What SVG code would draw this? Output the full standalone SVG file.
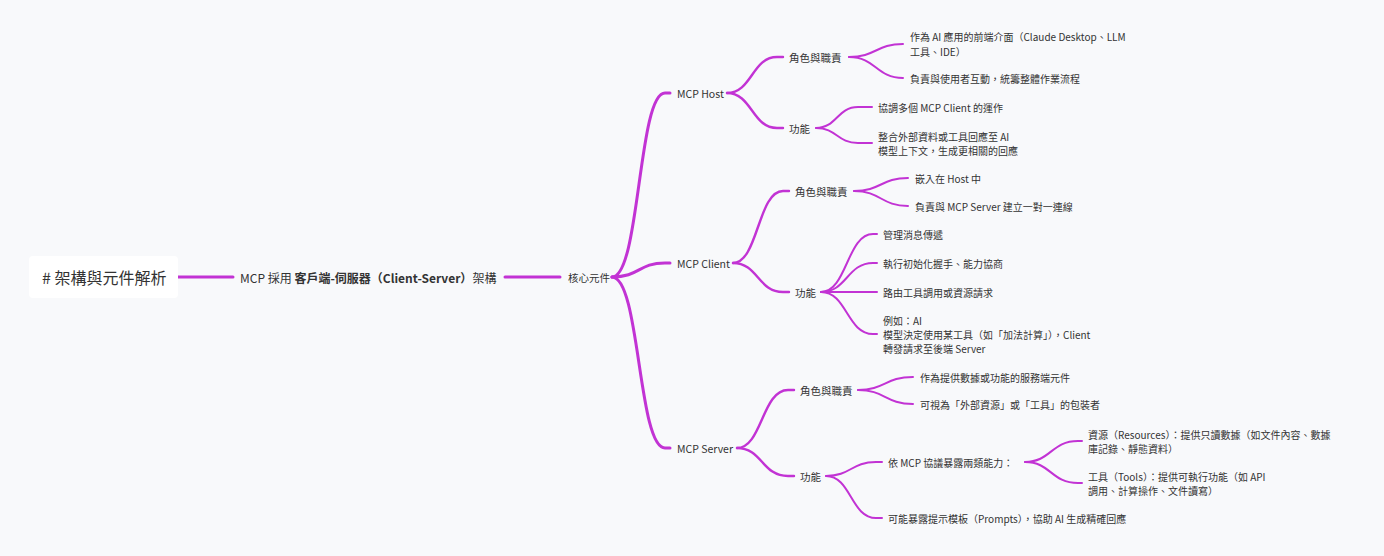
<svg xmlns="http://www.w3.org/2000/svg" width="1384" height="556" viewBox="0 0 1384 556">
<style>
text{font-family:"Noto Sans CJK TC","Noto Sans",sans-serif;fill:#333;dominant-baseline:central}
.s{font-size:10px}
.m{font-size:10.5px}
.l{font-size:12px}
#edges path{fill:none;stroke:#c233d4;stroke-linecap:round}
.w3{stroke-width:3}
.w2{stroke-width:2.4}
.w1{stroke-width:2}
</style>
<rect width="1384" height="556" fill="#f8f9fb"/>
<g id="edges">
<path class="w3" d="M178 277 H233"/>
<path class="w3" d="M505 277 H560"/>
<path class="w3" d="M612 277 C640 277 638 93 665 93 H670"/>
<path class="w3" d="M612 277 C640 277 638 263 665 263 H670"/>
<path class="w3" d="M612 277 C640 277 638 448 665 448 H670"/>
<path class="w2" d="M727 93 C752 93 752 57 777 57 H783"/>
<path class="w2" d="M727 93 C752 93 752 128 777 128 H783"/>
<path class="w2" d="M733 263 C758 263 758 191 783 191 H789"/>
<path class="w2" d="M733 263 C758 263 758 292 783 292 H789"/>
<path class="w2" d="M737 448 C762 448 762 390 788 390 H794"/>
<path class="w2" d="M737 448 C762 448 762 476 788 476 H794"/>
<path class="w1" d="M849 57 C876 57 876 44 903 44"/>
<path class="w1" d="M849 57 C876 57 876 78 903 78"/>
<path class="w1" d="M816 128 C837 128 837 107 858 107 H872"/>
<path class="w1" d="M816 128 C837 128 837 143 858 143 H872"/>
<path class="w1" d="M854 191 C881 191 881 178 908 178"/>
<path class="w1" d="M854 191 C881 191 881 206 908 206"/>
<path class="w1" d="M821 292 C847 292 847 234 873 234 H877"/>
<path class="w1" d="M821 292 C847 292 847 263 873 263 H877"/>
<path class="w1" d="M821 292 H877"/>
<path class="w1" d="M821 292 C847 292 847 334 873 334 H877"/>
<path class="w1" d="M858 390 C885 390 885 377 913 377"/>
<path class="w1" d="M858 390 C885 390 885 404 913 404"/>
<path class="w1" d="M826 476 C851 476 851 462 876 462 H882"/>
<path class="w1" d="M826 476 C851 476 851 518 876 518 H882"/>
<path class="w1" d="M1025 462 C1051 462 1051 441 1078 441 H1082"/>
<path class="w1" d="M1025 462 C1051 462 1051 483 1078 483 H1082"/>
</g>
<g id="root"><rect x="29" y="256" width="149" height="42" rx="4" fill="#fff"/><text x="42" y="277" style="font-size:16px">#&#160;架構與元件解析</text></g>
<g id="n1"><text x="240" y="277" class="l">MCP 採用 <tspan font-weight="bold">客戶端-伺服器（Client-Server）</tspan>架構</text></g>
<g id="n2"><text x="568" y="277" class="m">核心元件</text></g>
<g id="host"><text x="677" y="93" class="m">MCP Host</text></g>
<g id="h_role"><text x="789" y="57" class="m">角色與職責</text></g>
<g id="h_r1"><text x="910" y="36" class="s">作為 AI 應用的前端介面（Claude Desktop、LLM</text><text x="910" y="51" class="s">工具、IDE）</text></g>
<g id="h_r2"><text x="910" y="78" class="s">負責與使用者互動，統籌整體作業流程</text></g>
<g id="h_fn"><text x="789" y="128" class="m">功能</text></g>
<g id="h_f1"><text x="878" y="107" class="s">協調多個 MCP Client 的運作</text></g>
<g id="h_f2"><text x="878" y="136" class="s">整合外部資料或工具回應至 AI</text><text x="878" y="150" class="s">模型上下文，生成更相關的回應</text></g>
<g id="client"><text x="677" y="263" class="m">MCP Client</text></g>
<g id="c_role"><text x="795" y="191" class="m">角色與職責</text></g>
<g id="c_r1"><text x="915" y="178" class="s">嵌入在 Host 中</text></g>
<g id="c_r2"><text x="915" y="206" class="s">負責與 MCP Server 建立一對一連線</text></g>
<g id="c_fn"><text x="795" y="292" class="m">功能</text></g>
<g id="c_f1"><text x="883" y="234" class="s">管理消息傳遞</text></g>
<g id="c_f2"><text x="883" y="263" class="s">執行初始化握手、能力協商</text></g>
<g id="c_f3"><text x="883" y="292" class="s">路由工具調用或資源請求</text></g>
<g id="c_f4"><text x="883" y="320" class="s">例如：AI</text><text x="883" y="334" class="s">模型決定使用某工具（如「加法計算」），Client</text><text x="883" y="348" class="s">轉發請求至後端 Server</text></g>
<g id="server"><text x="677" y="448" class="m">MCP Server</text></g>
<g id="s_role"><text x="800" y="390" class="m">角色與職責</text></g>
<g id="s_r1"><text x="920" y="377" class="s">作為提供數據或功能的服務端元件</text></g>
<g id="s_r2"><text x="920" y="404" class="s">可視為「外部資源」或「工具」的包裝者</text></g>
<g id="s_fn"><text x="800" y="476" class="m">功能</text></g>
<g id="s_f1"><text x="888" y="462" class="s">依 MCP 協議暴露兩類能力：</text></g>
<g id="s_f1a"><text x="1088" y="434" class="s">資源（Resources）：提供只讀數據（如文件內容、數據</text><text x="1088" y="448" class="s">庫記錄、靜態資料）</text></g>
<g id="s_f1b"><text x="1088" y="476" class="s">工具（Tools）：提供可執行功能（如 API</text><text x="1088" y="490" class="s">調用、計算操作、文件讀寫）</text></g>
<g id="s_f2"><text x="888" y="518" class="s">可能暴露提示模板（Prompts），協助 AI 生成精確回應</text></g>
</svg>
